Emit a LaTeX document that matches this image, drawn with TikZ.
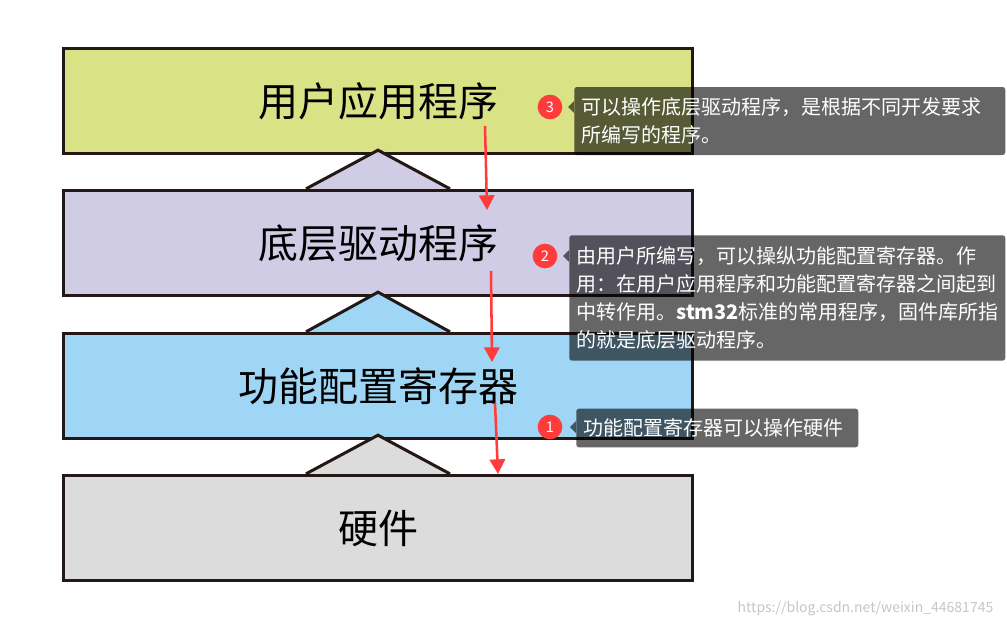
\documentclass[tikz,border=0pt]{standalone}
\usepackage{fontspec}
\setmainfont{Noto Sans CJK SC}
\usepackage{xcolor}
\usetikzlibrary{positioning,calc,arrows.meta}
\definecolor{appgreen}{HTML}{D9E385}
\definecolor{drvlilac}{HTML}{D0CCE5}
\definecolor{regblue}{HTML}{9FD6F5}
\definecolor{hwgray}{HTML}{DCDCDC}
\definecolor{edgedark}{HTML}{231815}
\definecolor{tipred}{HTML}{FF3B3B}

\begin{document}
\begin{tikzpicture}[
  x=0.75pt, y=-0.75pt,
  layer/.style={draw=edgedark, line width=2.25pt, minimum width=472pt,
                minimum height=79pt, inner sep=0pt,
                font=\fontsize{30}{30}\selectfont},
  wedge/.style={draw=edgedark, line width=2.25pt, line join=miter},
  redarr/.style={draw=tipred, line width=1.9pt,
                 -{Triangle[length=11pt, width=11.5pt]}},
  note/.style={fill=black, fill opacity=0.6, text opacity=1, text=white,
               rounded corners=2pt, anchor=west, align=left,
               inner xsep=5.25pt, font=\fontsize{15}{21}\selectfont},
  notetip/.style={fill=black, fill opacity=0.6},
  badge/.style={circle, fill=tipred, text=white, minimum size=18.5pt,
                inner sep=0pt, font=\fontsize{11}{11}\selectfont}]
\useasboundingbox (0,0) rectangle (1007,629);
% the four layers
\node[layer, fill=appgreen] (app) at (378,101) {用户应用程序};
\node[layer, fill=drvlilac] (drv) at (378,243) {底层驱动程序};
\node[layer, fill=regblue]  (reg) at (378,386) {功能配置寄存器};
\node[layer, fill=hwgray]   (hw)  at (378,528) {硬件};
% wedges between layers
\draw[wedge, fill=drvlilac] ($(drv.north)+(-72,0)$) -- ($(app.south)+(0,-5)$) -- ($(drv.north)+(72,0)$);
\draw[wedge, fill=regblue]  ($(reg.north)+(-72,0)$) -- ($(drv.south)+(0,-5)$) -- ($(reg.north)+(72,0)$);
\draw[wedge, fill=hwgray]   ($(hw.north)+(-72,0)$)  -- ($(reg.south)+(0,-5)$) -- ($(hw.north)+(72,0)$);
% red arrows
\coordinate (appout) at (485,126);
\coordinate (drvin)  at (487,210);
\coordinate (drvout) at (491,271);
\coordinate (regin)  at (492,362);
\coordinate (regout) at (495,403);
\coordinate (hwin)   at (498,474);
\draw[redarr] (appout) -- (drvin);
\draw[redarr] (drvout) -- (regin);
\draw[redarr] (regout) -- (hwin);
% notes
\node[note, text width=312.75pt, minimum height=51pt] (c3) at (574,121)
  {可以操作底层驱动程序，是根据不同开发要求\\所编写的程序。};
\node[note, text width=316.5pt, minimum height=94pt] (c2) at (569,298)
  {由用户所编写，可以操纵功能配置寄存器。作\\用：在用户应用程序和功能配置寄存器之间起到\\中转作用。\textbf{stm32}标准的常用程序，固件库所指\\的就是底层驱动程序。};
\node[note, text width=201pt, minimum height=29pt] (c1) at (576,428)
  {功能配置寄存器可以操作硬件};
\node[badge] (b3) at (550,107) {3};
\node[badge] (b2) at (545,256) {2};
\node[badge] (b1) at (550,427) {1};
\fill[notetip] (c3.west |- b3) ++(0,-6) -- ++(-6,6) -- ++(6,6) -- cycle;
\fill[notetip] (c2.west |- b2) ++(0,-6) -- ++(-6,6) -- ++(6,6) -- cycle;
\fill[notetip] (c1.west |- b1) ++(0,-6) -- ++(-6,6) -- ++(6,6) -- cycle;
\node[text=gray!45, anchor=east, font=\fontsize{10.5}{10.5}\selectfont] (mark) at (998,609)
  {https://blog.csdn.net/weixin\_44681745};
\end{tikzpicture}
\end{document}
